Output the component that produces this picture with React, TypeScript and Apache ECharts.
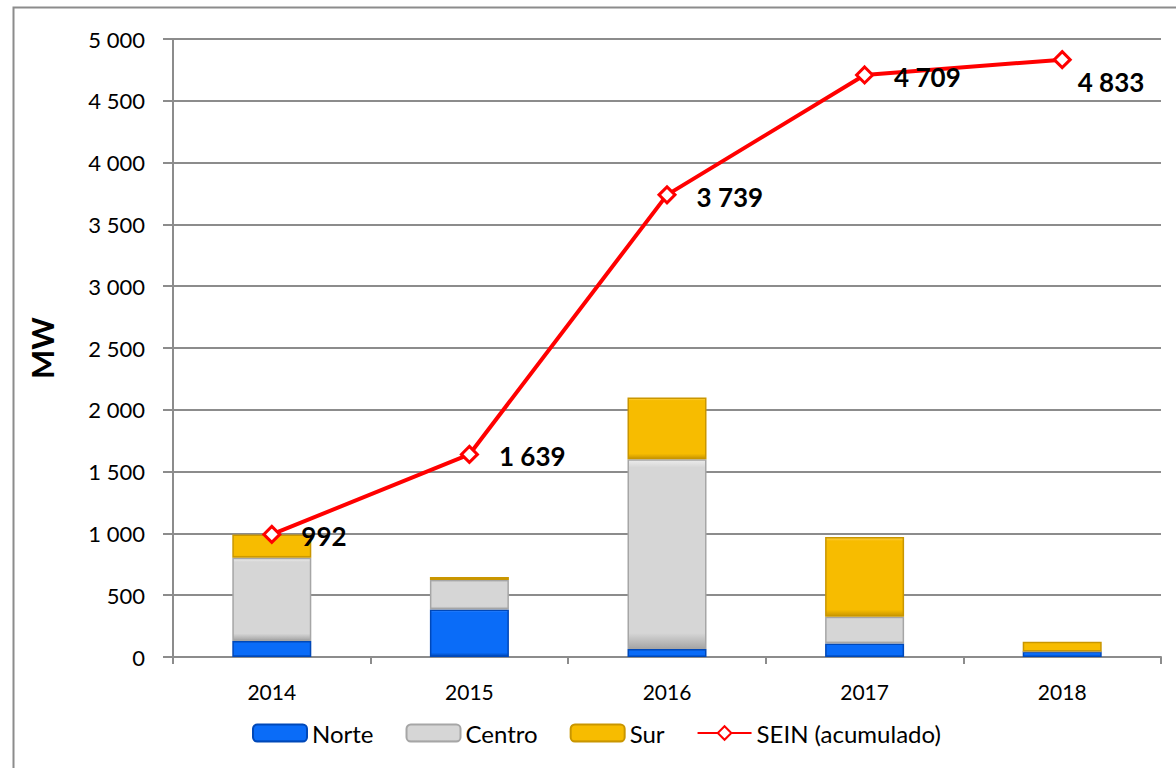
import React, { useEffect, useRef } from "react";
import * as echarts from "echarts";

const years = ["2014", "2015", "2016", "2017", "2018"];
const norte = [130, 385, 65, 110, 45];
const centro = [672, 237, 1535, 215, 0];
const sur = [190, 25, 500, 645, 79];
const sein = [992, 1639, 3739, 4709, 4833];
const yTicks = { min: 0, max: 5000, interval: 500 };

const FONT = "Lato";
const fmt = (n: number) => String(n).replace(/\B(?=(\d{3})+(?!\d))/g, " ");

export default function App() {
  const ref = useRef<HTMLDivElement>(null);
  useEffect(() => {
    if (!ref.current) return;
    const chart = echarts.init(ref.current, null, { renderer: "svg" });
    const barItem = (light: string, fill: string, edge: string) => ({
      color: new echarts.graphic.LinearGradient(0, 0, 0, 1, [
        { offset: 0, color: light },
        { offset: 0.04, color: fill },
        { offset: 0.92, color: fill },
        { offset: 1, color: edge },
      ]),
      borderColor: edge,
      borderWidth: 1.5,
    });
    chart.setOption({
      animation: false,
      textStyle: { fontFamily: FONT },
      graphic: [
        {
          type: "rect",
          left: 11,
          top: 5,
          shape: { x: 0, y: 0, width: 1200, height: 800 },
          style: { fill: "none", stroke: "#8c8c8c", lineWidth: 2 },
          silent: true,
        },
      ],
      grid: { left: 173, right: 15, top: 39, bottom: 111 },
      legend: {
        left: 247,
        top: 716,
        itemWidth: 54,
        itemHeight: 17,
        itemGap: 32,
        textStyle: { fontFamily: FONT, fontSize: 24, color: "#000" },
        data: ["Norte", "Centro", "Sur", "SEIN (acumulado)"],
      },
      xAxis: {
        type: "category",
        data: years,
        axisLine: { lineStyle: { color: "#8c8c8c", width: 2 } },
        axisTick: { show: true, length: 7, lineStyle: { color: "#8c8c8c", width: 2 } },
        axisLabel: { fontSize: 21, color: "#000", margin: 24, fontFamily: FONT },
      },
      yAxis: {
        type: "value",
        ...yTicks,
        name: "MW",
        nameLocation: "middle",
        nameRotate: 90,
        nameGap: 116,
        nameTextStyle: { fontSize: 31, fontWeight: "bold", color: "#000", fontFamily: FONT },
        axisLine: { show: true, lineStyle: { color: "#8c8c8c", width: 2 } },
        axisTick: { show: true, length: 10, lineStyle: { color: "#8c8c8c", width: 2 } },
        axisLabel: {
          fontSize: 22,
          color: "#000",
          margin: 28,
          fontFamily: FONT,
          formatter: (v: number) => fmt(v),
        },
        splitLine: { lineStyle: { color: "#8c8c8c", width: 2 } },
      },
      series: [
        {
          name: "Norte",
          type: "bar",
          stack: "t",
          barWidth: 79,
          data: norte,
          itemStyle: barItem("#4d94ff", "#0a6cf8", "#0048b8"),
        },
        {
          name: "Centro",
          type: "bar",
          stack: "t",
          data: centro,
          itemStyle: barItem("#ececec", "#d6d6d6", "#a6a6a6"),
        },
        {
          name: "Sur",
          type: "bar",
          stack: "t",
          data: sur,
          itemStyle: barItem("#ffd24d", "#f7bc00", "#c99600"),
        },
        {
          name: "SEIN (acumulado)",
          type: "line",
          data: sein.map((v, i) =>
            i === sein.length - 1
              ? { value: v, label: { distance: 6, offset: [0, 22] } }
              : v
          ),
          symbol: "diamond",
          symbolSize: 16,
          lineStyle: { color: "#ff0000", width: 4 },
          itemStyle: { color: "#ffffff", borderColor: "#ff0000", borderWidth: 3 },
          z: 5,
          label: {
            show: true,
            position: "right",
            distance: 20,
            offset: [0, 2],
            fontSize: 26,
            fontWeight: "bold",
            color: "#000",
            fontFamily: FONT,
            formatter: (p: any) => fmt(p.value),
          },
        },
      ],
    });
    return () => chart.dispose();
  }, []);
  return (
    <div
      ref={ref}
      style={{ position: "fixed", left: 0, top: 0, width: 1176, height: 768, background: "#fff" }}
    />
  );
}
